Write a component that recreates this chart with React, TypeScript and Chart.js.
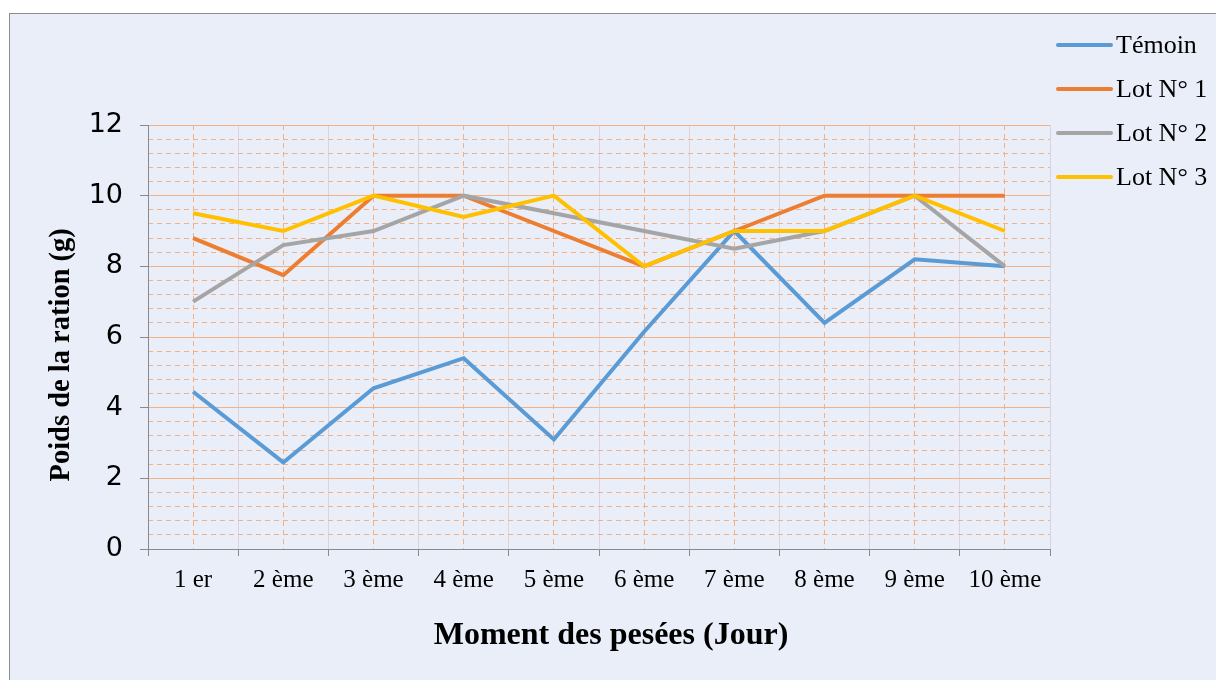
import React, { useEffect, useRef } from "react";
import { Chart, registerables } from "chart.js";

Chart.register(...registerables);

const categories = ["1 er", "2 ème", "3 ème", "4 ème", "5 ème", "6 ème", "7 ème", "8 ème", "9 ème", "10 ème"];
const temoin = [4.45, 2.45, 4.55, 5.4, 3.1, 6.15, 9, 6.4, 8.2, 8];
const lot1 = [8.8, 7.75, 10, 10, 9, 8, 9, 10, 10, 10];
const lot2 = [7, 8.6, 9, 10, 9.5, 9, 8.5, 9, 10, 8];
const lot3 = [9.5, 9, 10, 9.4, 10, 8, 9, 9, 10, 9];
const seriesNames = ["Témoin", "Lot N° 1", "Lot N° 2", "Lot N° 3"];
const seriesColors = ["#5b9bd5", "#ed7d31", "#a5a5a5", "#ffc000"];
const yMin = 0;
const yMax = 12;
const yMajorStep = 2;
const yMinorStep = 0.4;
const xTitle = "   Moment des pesées (Jour)";
const yTitle = "Poids de la ration (g)     ";

const W = 1206;
const H = 666;

const legendPlugin = {
  id: "customLegend",
  afterDraw(chart: any) {
    const ctx = chart.ctx;
    ctx.save();
    chart.data.datasets.forEach((ds: any, i: number) => {
      const y = 31 + i * 44;
      ctx.strokeStyle = ds.borderColor;
      ctx.lineWidth = 4;
      ctx.lineCap = "round";
      ctx.beginPath();
      ctx.moveTo(1048, y);
      ctx.lineTo(1101, y);
      ctx.stroke();
      ctx.fillStyle = "#000";
      ctx.font = '26px "Liberation Serif"';
      ctx.textBaseline = "middle";
      ctx.textAlign = "left";
      ctx.fillText(ds.label, 1106, y + 1);
    });
    ctx.restore();
  },
};

export default function App() {
  const ref = useRef<HTMLCanvasElement | null>(null);

  useEffect(() => {
    if (!ref.current) return;
    const allSeries = [temoin, lot1, lot2, lot3];
    const chart = new Chart(ref.current, {
      type: "line",
      data: {
        labels: categories,
        datasets: allSeries.map((d, i) => ({
          label: seriesNames[i],
          data: d,
          borderColor: seriesColors[i],
          backgroundColor: seriesColors[i],
          borderWidth: 4,
          pointRadius: 0,
          tension: 0,
          fill: false,
          order: 4 - i,
        })),
      },
      options: {
        responsive: false,
        animation: false,
        devicePixelRatio: 1,
        layout: { padding: { top: 111, right: 166, left: 0, bottom: 0 } },
        plugins: {
          legend: { display: false },
          tooltip: { enabled: false },
        },
        scales: {
          x: {
            type: "category",
            offset: true,
            grid: {
              offset: true,
              color: "rgba(205,185,190,0.5)",
              lineWidth: 1,
              tickLength: 7,
              tickColor: "#8a8a8a",
              drawTicks: true,
            },
            border: { color: "#8a8a8a", width: 1 },
            ticks: {
              font: { family: '"Liberation Serif"', size: 25 },
              color: "#000",
              padding: 9,
              maxRotation: 0,
              autoSkip: false,
            },
            title: {
              display: true,
              text: xTitle,
              color: "#000",
              font: { family: '"Liberation Serif"', size: 32, weight: "bold" },
              padding: { top: 0, bottom: 25 },
            },
            afterFit(s: any) {
              s.height = 131;
            },
          },
          x2: {
            type: "category",
            position: "bottom",
            offset: true,
            grid: { offset: false, color: "#f4b183", lineWidth: 1, drawTicks: false },
            border: { display: false, dash: [5, 4] },
            ticks: { display: false },
            afterFit(s: any) {
              s.height = 0;
            },
          },
          y: {
            type: "linear",
            position: "left",
            min: yMin,
            max: yMax,
            ticks: {
              stepSize: yMajorStep,
              font: { family: '"DejaVu Sans"', size: 27 },
              color: "#000",
              padding: 17,
            },
            grid: {
              color: "#f4b183",
              lineWidth: 1,
              tickLength: 8,
              tickColor: "#8a8a8a",
            },
            border: { color: "#8a8a8a", width: 1 },
            title: {
              display: true,
              text: yTitle,
              color: "#000",
              font: { family: '"Liberation Serif"', size: 28.5, weight: "bold" },
              padding: { top: 35, bottom: 0 },
            },
            afterFit(s: any) {
              s.width = 138;
            },
          },
          y2: {
            type: "linear",
            position: "left",
            min: yMin,
            max: yMax,
            ticks: { display: false, stepSize: yMinorStep },
            grid: {
              drawTicks: false,
              lineWidth: 1,
              color: (c: any) => {
                const v = c.tick ? c.tick.value : 0;
                const r = Math.round(v * 10);
                return r % 20 === 0 ? "rgba(0,0,0,0)" : "#f4b183";
              },
            },
            border: { display: false, dash: [5, 4] },
            afterFit(s: any) {
              s.width = 0;
            },
          },
        },
      } as any,
      plugins: [legendPlugin],
    });
    return () => chart.destroy();
  }, []);

  return (
    <div
      style={{
        position: "absolute",
        left: 9,
        top: 13,
        width: W,
        height: H,
        borderTop: "1px solid #8c8c8c",
        borderLeft: "1px solid #8c8c8c",
        background: "#e9eef8",
      }}
    >
      <canvas ref={ref} width={W} height={H} style={{ display: "block", width: W, height: H }} />
    </div>
  );
}
